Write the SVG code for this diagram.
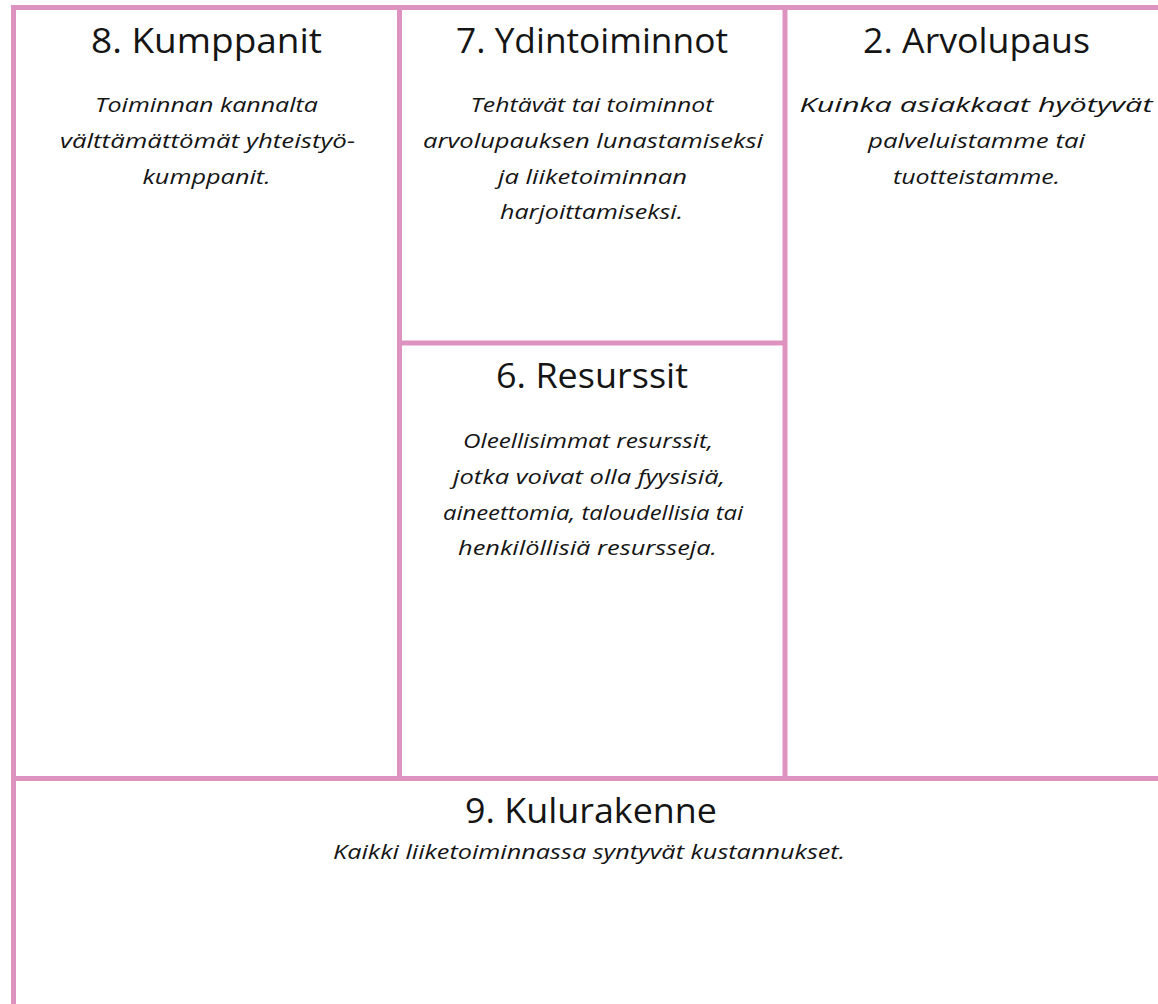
<svg xmlns="http://www.w3.org/2000/svg" width="1158" height="1004" viewBox="0 0 1158 1004">
  <style>
    .line { fill: #de92c0; }
    .title { font-family: "Open Sans", "Liberation Sans", sans-serif; font-size: 34px; font-weight: 400; fill: #151515; text-anchor: middle; }
    .desc { font-family: "Open Sans", "Liberation Sans", sans-serif; font-size: 20.5px; font-weight: 500; font-style: italic; fill: #151515; text-anchor: middle; }
  </style>
  <rect x="0" y="0" width="1158" height="1004" fill="#ffffff"/>
  <g id="grid">
    <rect class="line" x="11" y="5" width="1147" height="5"/>
    <rect class="line" x="11" y="5" width="5" height="999"/>
    <rect class="line" x="397" y="5" width="5" height="776"/>
    <rect class="line" x="782.5" y="5" width="5" height="776"/>
    <rect class="line" x="397" y="340.5" width="390" height="5"/>
    <rect class="line" x="11" y="776" width="1147" height="5"/>
  </g>
  <g id="kumppanit">
    <text class="title" x="206.5" y="53" textLength="231" lengthAdjust="spacingAndGlyphs">8. Kumppanit</text>
    <text class="desc" x="206.5" y="112" textLength="223" lengthAdjust="spacingAndGlyphs">Toiminnan kannalta</text>
    <text class="desc" x="207.5" y="148" textLength="295" lengthAdjust="spacingAndGlyphs">välttämättömät yhteistyö-</text>
    <text class="desc" x="206.5" y="184" textLength="128" lengthAdjust="spacingAndGlyphs">kumppanit.</text>
  </g>
  <g id="ydintoiminnot">
    <text class="title" x="592" y="53" textLength="272" lengthAdjust="spacingAndGlyphs">7. Ydintoiminnot</text>
    <text class="desc" x="592" y="112" textLength="243" lengthAdjust="spacingAndGlyphs">Tehtävät tai toiminnot</text>
    <text class="desc" x="593" y="148" textLength="340" lengthAdjust="spacingAndGlyphs">arvolupauksen lunastamiseksi</text>
    <text class="desc" x="592.5" y="184" textLength="189" lengthAdjust="spacingAndGlyphs">ja liiketoiminnan</text>
    <text class="desc" x="591.5" y="219" textLength="183" lengthAdjust="spacingAndGlyphs">harjoittamiseksi.</text>
  </g>
  <g id="arvolupaus">
    <text class="title" x="976.5" y="53" textLength="227" lengthAdjust="spacingAndGlyphs">2. Arvolupaus</text>
    <text class="desc" x="976" y="112" textLength="353" lengthAdjust="spacingAndGlyphs">Kuinka asiakkaat hyötyvät</text>
    <text class="desc" x="976.5" y="148" textLength="217" lengthAdjust="spacingAndGlyphs">palveluistamme tai</text>
    <text class="desc" x="976.5" y="184" textLength="167" lengthAdjust="spacingAndGlyphs">tuotteistamme.</text>
  </g>
  <g id="resurssit">
    <text class="title" x="592" y="388" textLength="192" lengthAdjust="spacingAndGlyphs">6. Resurssit</text>
    <text class="desc" x="588" y="448" textLength="250" lengthAdjust="spacingAndGlyphs">Oleellisimmat resurssit,</text>
    <text class="desc" x="589" y="484" textLength="272" lengthAdjust="spacingAndGlyphs">jotka voivat olla fyysisiä,</text>
    <text class="desc" x="593" y="519.5" textLength="300" lengthAdjust="spacingAndGlyphs">aineettomia, taloudellisia tai</text>
    <text class="desc" x="587.5" y="555" textLength="259" lengthAdjust="spacingAndGlyphs">henkilöllisiä resursseja.</text>
  </g>
  <g id="kulurakenne">
    <text class="title" x="591" y="823" textLength="252" lengthAdjust="spacingAndGlyphs">9. Kulurakenne</text>
    <text class="desc" x="589" y="859" textLength="512" lengthAdjust="spacingAndGlyphs">Kaikki liiketoiminnassa syntyvät kustannukset.</text>
  </g>
  <g id="connectors"/>
</svg>
